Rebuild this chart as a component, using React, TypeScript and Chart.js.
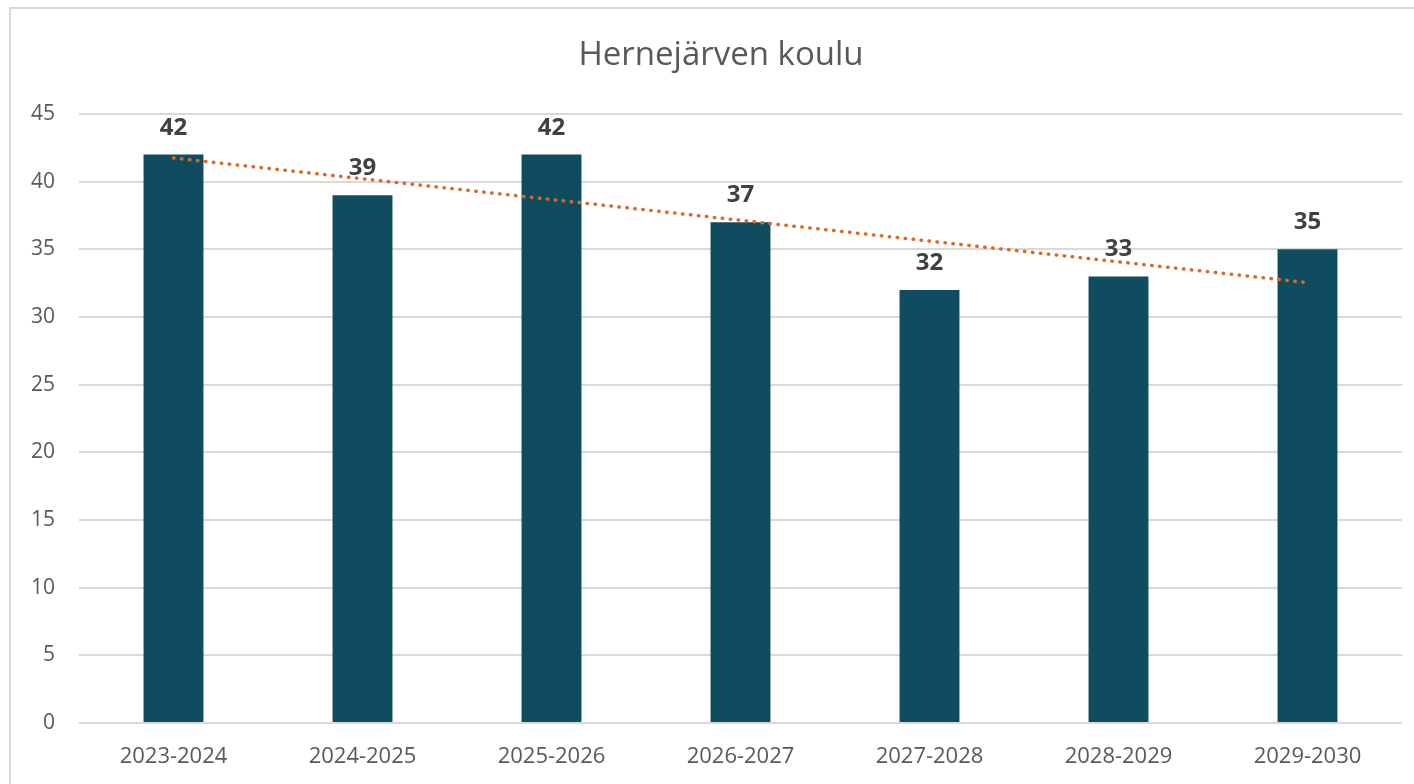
import React, { useEffect, useRef } from "react";
import { Chart, registerables } from "chart.js";

Chart.register(...registerables);

const TITLE = "Hernejärven koulu";
const categories = ["2023-2024", "2024-2025", "2025-2026", "2026-2027", "2027-2028", "2028-2029", "2029-2030"];
const pupils = [42, 39, 42, 37, 32, 33, 35];
const trendValues = [41.75, null, null, null, null, null, 32.54];
const yTicks = [0, 5, 10, 15, 20, 25, 30, 35, 40, 45];

const FONT = "'Open Sans', 'Noto Sans', sans-serif";

const framePlugin = {
  id: "frame",
  beforeDraw(chart: any) {
    const ctx = chart.ctx;
    ctx.save();
    ctx.fillStyle = "#ffffff";
    ctx.fillRect(0, 0, chart.width, chart.height);
    ctx.strokeStyle = "#d9d9d9";
    ctx.lineWidth = 2;
    ctx.strokeRect(10, 8, chart.width + 100, chart.height + 100);
    ctx.restore();
  },
  afterDraw(chart: any) {
    const ctx = chart.ctx;
    ctx.save();
    ctx.fillStyle = "#595959";
    ctx.font = `33px ${FONT}`;
    ctx.textAlign = "center";
    ctx.textBaseline = "middle";
    ctx.fillText(TITLE, 721, 56);
    ctx.restore();
  },
};

const labelPlugin = {
  id: "barLabels",
  afterDatasetsDraw(chart: any) {
    const ctx = chart.ctx;
    const meta = chart.getDatasetMeta(0);
    ctx.save();
    ctx.fillStyle = "#404040";
    ctx.font = `bold 24px ${FONT}`;
    ctx.textAlign = "center";
    ctx.textBaseline = "alphabetic";
    meta.data.forEach((el: any, i: number) => {
      ctx.fillText(String(pupils[i]), el.x, el.y - 20);
    });
    ctx.restore();
  },
};

export default function App() {
  const ref = useRef<HTMLCanvasElement | null>(null);
  useEffect(() => {
    if (!ref.current) return;
    const chart = new Chart(ref.current, {
      type: "bar",
      data: {
        labels: categories,
        datasets: [
          {
            type: "bar",
            data: pupils,
            backgroundColor: "#0F4C5F",
            categoryPercentage: 1,
            barPercentage: 0.317,
            order: 1,
          } as any,
          {
            type: "line",
            data: trendValues,
            borderColor: "#D9692C",
            borderWidth: 3.5,
            borderDash: [0.5, 7.5],
            borderCapStyle: "round",
            pointRadius: 0,
            spanGaps: true,
            fill: false,
            order: 0,
          } as any,
        ],
      },
      options: {
        animation: false,
        responsive: false,
        layout: { padding: { top: 114, right: 12, bottom: 16, left: 0 } },
        plugins: {
          legend: { display: false },
          title: { display: false },
          tooltip: { enabled: false },
        },
        scales: {
          x: {
            afterFit(scale: any) {
              scale.height = 45;
            },
            grid: { display: false, drawTicks: false },
            border: { display: false },
            ticks: { color: "#595959", font: { family: FONT, size: 22 }, padding: 21, maxRotation: 0 },
          },
          y: {
            min: 0,
            max: 45,
            afterFit(scale: any) {
              scale.width = 79;
            },
            afterBuildTicks(scale: any) {
              scale.ticks = yTicks.map((v) => ({ value: v }));
            },
            grid: { color: "#d9d9d9", lineWidth: 2, drawTicks: false },
            border: { display: false },
            ticks: { color: "#595959", font: { family: FONT, size: 21 }, padding: 24 },
          },
        },
      },
      plugins: [framePlugin, labelPlugin],
    });
    return () => chart.destroy();
  }, []);
  return (
    <div style={{ position: "absolute", left: 0, top: 0, width: 1414, height: 784 }}>
      <canvas ref={ref} width={1414} height={784} style={{ display: "block" }} />
    </div>
  );
}
